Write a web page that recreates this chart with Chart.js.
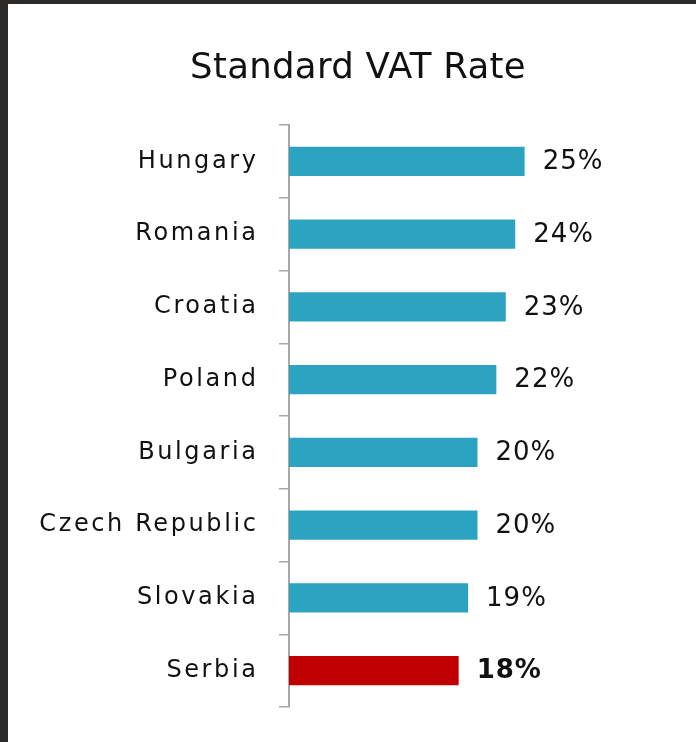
<!DOCTYPE html>
<html lang="en">
<head>
    <meta charset="UTF-8">
    <title>Standard VAT Rate</title>
    <script src="https://cdn.jsdelivr.net/npm/chart.js"></script>
    <style>
        body {
            margin: 0;
            padding: 4px 0 0 8px;
            background-color: #2c2b29;
            font-family: "DejaVu Sans", sans-serif;
        }
        #panel {
            width: 688px;
            height: 738px;
            background-color: #ffffff;
        }
    </style>
</head>
<body>
    <div id="panel">
        <canvas id="vatChart" width="688" height="738"></canvas>
    </div>

    <script>
        const chartTitle = 'Standard VAT Rate';
        const countries = ['Hungary', 'Romania', 'Croatia', 'Poland', 'Bulgaria', 'Czech Republic', 'Slovakia', 'Serbia'];
        const vatRates = [25, 24, 23, 22, 20, 20, 19, 18];
        const highlightCountry = 'Serbia';

        const barColors = countries.map(c => c === highlightCountry ? '#c00000' : '#2ca4c1');

        // letter spacing for the axis labels (Lucida-like look)
        const spacingPlugin = {
            id: 'spacing',
            beforeDraw(chart) {
                chart.ctx.letterSpacing = '2.6px';
            }
        };

        // title and the value labels at the end of each bar
        const labelsPlugin = {
            id: 'labels',
            afterDraw(chart) {
                const ctx = chart.ctx;
                ctx.save();
                ctx.letterSpacing = '0.3px';
                ctx.fillStyle = '#111111';
                ctx.font = '35.5px "DejaVu Sans"';
                ctx.textAlign = 'center';
                ctx.textBaseline = 'alphabetic';
                ctx.fillText(chartTitle, 350, 74);

                const meta = chart.getDatasetMeta(0);
                ctx.textAlign = 'left';
                ctx.textBaseline = 'middle';
                ctx.letterSpacing = '1px';
                meta.data.forEach((bar, i) => {
                    const bold = countries[i] === highlightCountry;
                    ctx.font = (bold ? 'bold ' : '') + '26px "DejaVu Sans"';
                    ctx.fillText(vatRates[i] + '%', bar.x + 18, bar.y + 1);
                });
                ctx.restore();
            }
        };

        const ctx = document.getElementById('vatChart').getContext('2d');
        const vatChart = new Chart(ctx, {
            type: 'bar',
            data: {
                labels: countries,
                datasets: [{
                    label: chartTitle,
                    data: vatRates,
                    backgroundColor: barColors,
                    borderWidth: 0,
                    barPercentage: 0.4,
                    categoryPercentage: 1
                }]
            },
            options: {
                indexAxis: 'y',
                responsive: false,
                animation: false,
                layout: {
                    padding: { top: 121, bottom: 35, left: 10, right: 30 }
                },
                plugins: {
                    legend: { display: false },
                    title: { display: false },
                    tooltip: { enabled: false }
                },
                scales: {
                    x: {
                        display: false,
                        min: 0,
                        max: 40
                    },
                    y: {
                        afterFit(scale) {
                            scale.width = 271;
                        },
                        grid: {
                            display: true,
                            drawOnChartArea: false,
                            drawTicks: true,
                            tickLength: 10,
                            color: '#a8a8a8',
                            lineWidth: 1.5
                        },
                        border: {
                            display: true,
                            color: '#a8a8a8',
                            width: 2
                        },
                        ticks: {
                            color: '#111111',
                            padding: 20.5,
                            font: { family: '"DejaVu Sans"', size: 24 }
                        }
                    }
                }
            },
            plugins: [spacingPlugin, labelsPlugin]
        });
    </script>
</body>
</html>
